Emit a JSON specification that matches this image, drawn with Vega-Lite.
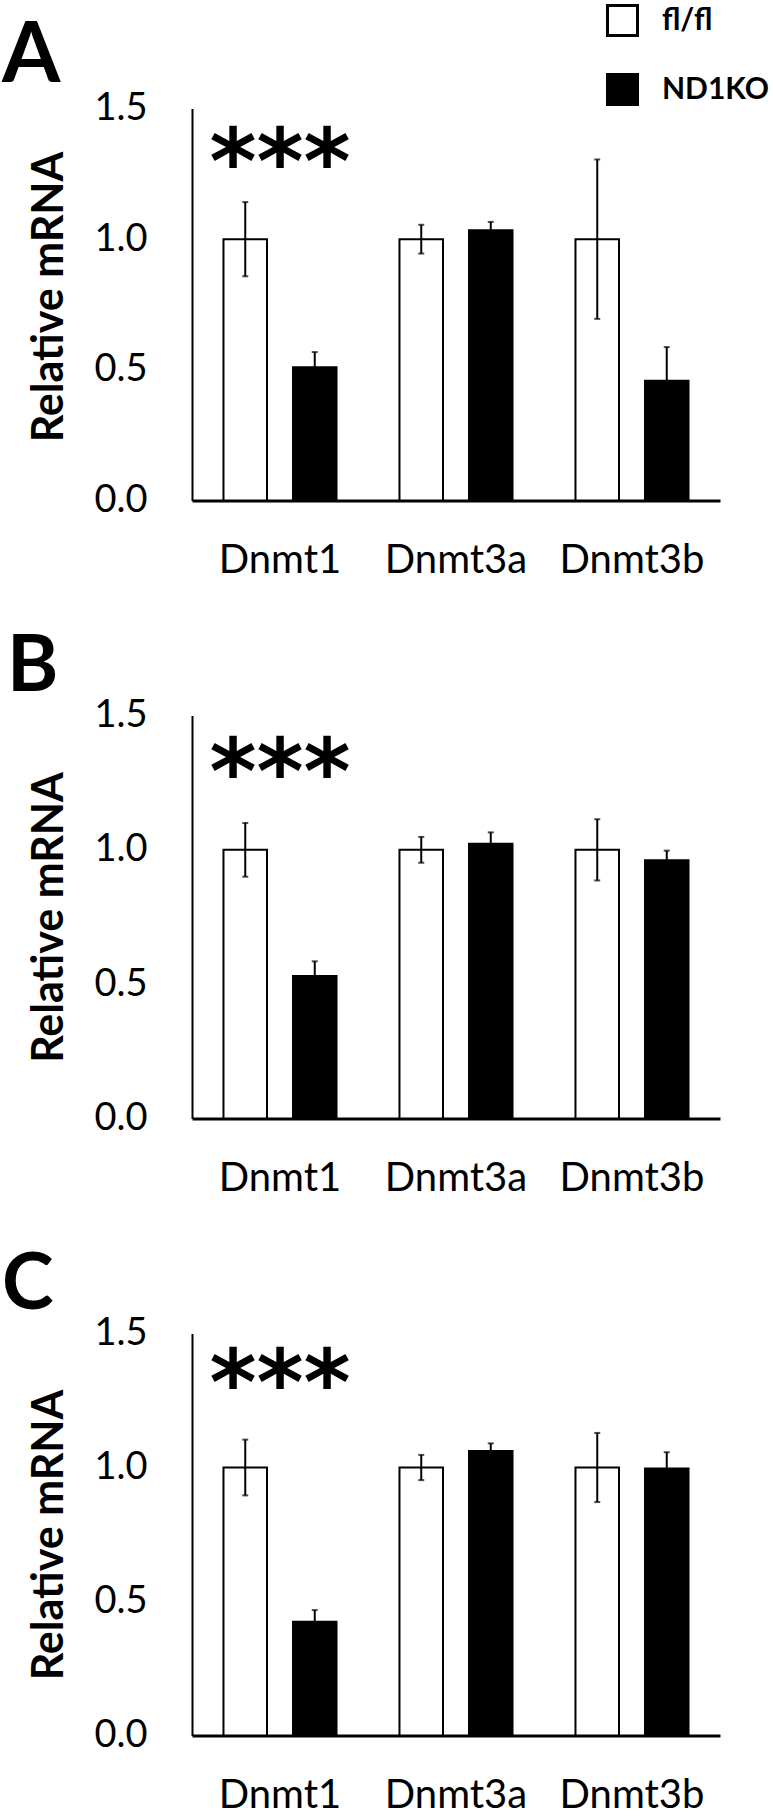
{
  "$schema": "https://vega.github.io/schema/vega-lite/v6.json",
  "padding": {"left": 2, "top": 3.5, "right": 0, "bottom": 0},
  "background": "white",
  "config": {
    "font": "Lato",
    "view": {"stroke": null},
    "axis": {"grid": false, "ticks": false, "tickSize": 0, "domainColor": "black", "labelColor": "black", "labelFont": "Lato", "labelFontSize": 38, "labelFontWeight": "normal", "titleColor": "black", "titleFont": "Lato"},
    "axisY": {"format": ".1f", "domainWidth": 2, "labelPadding": 45, "titleFontSize": 43, "titleFontWeight": "bold", "titlePadding": 22},
    "axisX": {"labelAngle": 0, "domainWidth": 3, "labelPadding": 40, "labelFontSize": 40},
    "concat": {"spacing": 48}
  },
  "datasets": {
    "d": [
      {"panel": "A", "gene": "Dnmt1", "group": "fl/fl", "mean": 1.0, "lo": 0.858, "hi": 1.142},
      {"panel": "A", "gene": "Dnmt1", "group": "ND1KO", "mean": 0.510, "lo": 0.452, "hi": 0.568},
      {"panel": "A", "gene": "Dnmt3a", "group": "fl/fl", "mean": 1.0, "lo": 0.945, "hi": 1.055},
      {"panel": "A", "gene": "Dnmt3a", "group": "ND1KO", "mean": 1.034, "lo": 1.002, "hi": 1.066},
      {"panel": "A", "gene": "Dnmt3b", "group": "fl/fl", "mean": 1.0, "lo": 0.695, "hi": 1.305},
      {"panel": "A", "gene": "Dnmt3b", "group": "ND1KO", "mean": 0.458, "lo": 0.329, "hi": 0.587},
      {"panel": "B", "gene": "Dnmt1", "group": "fl/fl", "mean": 1.0, "lo": 0.90, "hi": 1.10},
      {"panel": "B", "gene": "Dnmt1", "group": "ND1KO", "mean": 0.530, "lo": 0.475, "hi": 0.585},
      {"panel": "B", "gene": "Dnmt3a", "group": "fl/fl", "mean": 1.0, "lo": 0.952, "hi": 1.048},
      {"panel": "B", "gene": "Dnmt3a", "group": "ND1KO", "mean": 1.023, "lo": 0.981, "hi": 1.065},
      {"panel": "B", "gene": "Dnmt3b", "group": "fl/fl", "mean": 1.0, "lo": 0.886, "hi": 1.114},
      {"panel": "B", "gene": "Dnmt3b", "group": "ND1KO", "mean": 0.961, "lo": 0.925, "hi": 0.997},
      {"panel": "C", "gene": "Dnmt1", "group": "fl/fl", "mean": 1.0, "lo": 0.896, "hi": 1.104},
      {"panel": "C", "gene": "Dnmt1", "group": "ND1KO", "mean": 0.424, "lo": 0.380, "hi": 0.468},
      {"panel": "C", "gene": "Dnmt3a", "group": "fl/fl", "mean": 1.0, "lo": 0.953, "hi": 1.047},
      {"panel": "C", "gene": "Dnmt3a", "group": "ND1KO", "mean": 1.062, "lo": 1.034, "hi": 1.090},
      {"panel": "C", "gene": "Dnmt3b", "group": "fl/fl", "mean": 1.0, "lo": 0.871, "hi": 1.129},
      {"panel": "C", "gene": "Dnmt3b", "group": "ND1KO", "mean": 0.996, "lo": 0.935, "hi": 1.057}
    ]
  },
  "resolve": {"legend": {"fill": "independent"}},
  "vconcat": [
    {
      "title": {"text": "A", "anchor": "start", "frame": "group", "dx": -190, "offset": -96, "fontSize": 84, "fontWeight": "bold", "font": "Lato", "color": "black"},
      "width": 528, "height": 392,
      "layer": [
        {
          "data": {"name": "d"},
          "transform": [{"filter": "datum.panel === 'A'"}],
          "mark": {"type": "bar", "stroke": "black", "strokeWidth": 2},
          "encoding": {
            "x": {"field": "gene", "type": "nominal", "title": null, "sort": ["Dnmt1", "Dnmt3a", "Dnmt3b"], "scale": {"paddingInner": 0, "paddingOuter": 0}},
            "xOffset": {"field": "group", "type": "nominal", "sort": ["fl/fl", "ND1KO"], "scale": {"paddingInner": 0.374, "paddingOuter": 0.453}},
            "y": {"field": "mean", "type": "quantitative", "scale": {"domain": [0, 1.5], "nice": false}, "title": "Relative mRNA", "axis": {"values": [0, 0.5, 1, 1.5], "titleY": 188}},
            "fill": {"field": "group", "type": "nominal", "sort": ["fl/fl", "ND1KO"], "scale": {"domain": ["fl/fl", "ND1KO"], "range": ["white", "black"]},
              "legend": {"orient": "none", "legendX": 414, "legendY": -104.5, "title": null, "symbolType": "square", "symbolSize": 900, "symbolStrokeColor": "black", "symbolStrokeWidth": 3, "labelFont": "Lato", "labelFontWeight": "bold", "labelFontSize": 30, "labelColor": "black", "labelOffset": 23, "rowPadding": 26, "padding": 0, "symbolOpacity": 1}}
          }
        },
        {
          "data": {"name": "d"},
          "transform": [{"filter": "datum.panel === 'A'"}],
          "mark": {"type": "rule", "strokeWidth": 2, "color": "black"},
          "encoding": {
            "x": {"field": "gene", "type": "nominal", "title": null, "sort": ["Dnmt1", "Dnmt3a", "Dnmt3b"]},
            "xOffset": {"field": "group", "type": "nominal", "sort": ["fl/fl", "ND1KO"]},
            "y": {"field": "lo", "type": "quantitative", "title": "Relative mRNA", "axis": {"values": [0, 0.5, 1, 1.5], "titleY": 188}},
            "y2": {"field": "hi"}
          }
        },
        {
          "data": {"name": "d"},
          "transform": [{"filter": "datum.panel === 'A'"}],
          "mark": {"type": "tick", "size": 6, "thickness": 2, "color": "black"},
          "encoding": {
            "x": {"field": "gene", "type": "nominal", "title": null, "sort": ["Dnmt1", "Dnmt3a", "Dnmt3b"]},
            "xOffset": {"field": "group", "type": "nominal", "sort": ["fl/fl", "ND1KO"]},
            "y": {"field": "hi", "type": "quantitative", "title": "Relative mRNA", "axis": {"values": [0, 0.5, 1, 1.5], "titleY": 188}}
          }
        },
        {
          "data": {"name": "d"},
          "transform": [{"filter": "datum.panel === 'A'"}],
          "mark": {"type": "tick", "size": 6, "thickness": 2, "color": "black"},
          "encoding": {
            "x": {"field": "gene", "type": "nominal", "title": null, "sort": ["Dnmt1", "Dnmt3a", "Dnmt3b"]},
            "xOffset": {"field": "group", "type": "nominal", "sort": ["fl/fl", "ND1KO"]},
            "y": {"field": "lo", "type": "quantitative", "title": "Relative mRNA", "axis": {"values": [0, 0.5, 1, 1.5], "titleY": 188}}
          }
        },
        {
          "data": {"values": [{"sig": "***"}]},
          "mark": {"type": "text", "font": "DejaVu Sans", "fontWeight": "bold", "fontSize": 90, "baseline": "alphabetic", "align": "center", "color": "black"},
          "encoding": {
            "x": {"datum": "Dnmt1"},
            "y": {"datum": 1.178, "title": "Relative mRNA", "axis": {"values": [0, 0.5, 1, 1.5], "titleY": 188}},
            "text": {"field": "sig"}
          }
        }
      ]
    },
    {
      "title": {"text": "B", "anchor": "start", "frame": "group", "dx": -185, "offset": -10, "fontSize": 78, "fontWeight": "bold", "font": "Lato", "color": "black"},
      "width": 528, "height": 403,
      "layer": [
        {
          "data": {"name": "d"},
          "transform": [{"filter": "datum.panel === 'B'"}],
          "mark": {"type": "bar", "stroke": "black", "strokeWidth": 2},
          "encoding": {
            "x": {"field": "gene", "type": "nominal", "title": null, "sort": ["Dnmt1", "Dnmt3a", "Dnmt3b"], "scale": {"paddingInner": 0, "paddingOuter": 0}},
            "xOffset": {"field": "group", "type": "nominal", "sort": ["fl/fl", "ND1KO"], "scale": {"paddingInner": 0.374, "paddingOuter": 0.453}},
            "y": {"field": "mean", "type": "quantitative", "scale": {"domain": [0, 1.5], "nice": false}, "title": "Relative mRNA", "axis": {"values": [0, 0.5, 1, 1.5]}},
            "fill": {"field": "group", "type": "nominal", "sort": ["fl/fl", "ND1KO"], "scale": {"domain": ["fl/fl", "ND1KO"], "range": ["white", "black"]}, "legend": null}
          }
        },
        {
          "data": {"name": "d"},
          "transform": [{"filter": "datum.panel === 'B'"}],
          "mark": {"type": "rule", "strokeWidth": 2, "color": "black"},
          "encoding": {
            "x": {"field": "gene", "type": "nominal", "title": null, "sort": ["Dnmt1", "Dnmt3a", "Dnmt3b"]},
            "xOffset": {"field": "group", "type": "nominal", "sort": ["fl/fl", "ND1KO"]},
            "y": {"field": "lo", "type": "quantitative", "title": "Relative mRNA", "axis": {"values": [0, 0.5, 1, 1.5]}},
            "y2": {"field": "hi"}
          }
        },
        {
          "data": {"name": "d"},
          "transform": [{"filter": "datum.panel === 'B'"}],
          "mark": {"type": "tick", "size": 6, "thickness": 2, "color": "black"},
          "encoding": {
            "x": {"field": "gene", "type": "nominal", "title": null, "sort": ["Dnmt1", "Dnmt3a", "Dnmt3b"]},
            "xOffset": {"field": "group", "type": "nominal", "sort": ["fl/fl", "ND1KO"]},
            "y": {"field": "hi", "type": "quantitative", "title": "Relative mRNA", "axis": {"values": [0, 0.5, 1, 1.5]}}
          }
        },
        {
          "data": {"name": "d"},
          "transform": [{"filter": "datum.panel === 'B'"}],
          "mark": {"type": "tick", "size": 6, "thickness": 2, "color": "black"},
          "encoding": {
            "x": {"field": "gene", "type": "nominal", "title": null, "sort": ["Dnmt1", "Dnmt3a", "Dnmt3b"]},
            "xOffset": {"field": "group", "type": "nominal", "sort": ["fl/fl", "ND1KO"]},
            "y": {"field": "lo", "type": "quantitative", "title": "Relative mRNA", "axis": {"values": [0, 0.5, 1, 1.5]}}
          }
        },
        {
          "data": {"values": [{"sig": "***"}]},
          "mark": {"type": "text", "font": "DejaVu Sans", "fontWeight": "bold", "fontSize": 90, "baseline": "alphabetic", "align": "center", "color": "black"},
          "encoding": {
            "x": {"datum": "Dnmt1"},
            "y": {"datum": 1.175, "title": "Relative mRNA", "axis": {"values": [0, 0.5, 1, 1.5]}},
            "text": {"field": "sig"}
          }
        }
      ]
    },
    {
      "title": {"text": "C", "anchor": "start", "frame": "group", "dx": -190, "offset": -10, "fontSize": 78, "fontWeight": "bold", "font": "Lato", "color": "black"},
      "width": 528, "height": 402,
      "layer": [
        {
          "data": {"name": "d"},
          "transform": [{"filter": "datum.panel === 'C'"}],
          "mark": {"type": "bar", "stroke": "black", "strokeWidth": 2},
          "encoding": {
            "x": {"field": "gene", "type": "nominal", "title": null, "sort": ["Dnmt1", "Dnmt3a", "Dnmt3b"], "scale": {"paddingInner": 0, "paddingOuter": 0}},
            "xOffset": {"field": "group", "type": "nominal", "sort": ["fl/fl", "ND1KO"], "scale": {"paddingInner": 0.374, "paddingOuter": 0.453}},
            "y": {"field": "mean", "type": "quantitative", "scale": {"domain": [0, 1.5], "nice": false}, "title": "Relative mRNA", "axis": {"values": [0, 0.5, 1, 1.5]}},
            "fill": {"field": "group", "type": "nominal", "sort": ["fl/fl", "ND1KO"], "scale": {"domain": ["fl/fl", "ND1KO"], "range": ["white", "black"]}, "legend": null}
          }
        },
        {
          "data": {"name": "d"},
          "transform": [{"filter": "datum.panel === 'C'"}],
          "mark": {"type": "rule", "strokeWidth": 2, "color": "black"},
          "encoding": {
            "x": {"field": "gene", "type": "nominal", "title": null, "sort": ["Dnmt1", "Dnmt3a", "Dnmt3b"]},
            "xOffset": {"field": "group", "type": "nominal", "sort": ["fl/fl", "ND1KO"]},
            "y": {"field": "lo", "type": "quantitative", "title": "Relative mRNA", "axis": {"values": [0, 0.5, 1, 1.5]}},
            "y2": {"field": "hi"}
          }
        },
        {
          "data": {"name": "d"},
          "transform": [{"filter": "datum.panel === 'C'"}],
          "mark": {"type": "tick", "size": 6, "thickness": 2, "color": "black"},
          "encoding": {
            "x": {"field": "gene", "type": "nominal", "title": null, "sort": ["Dnmt1", "Dnmt3a", "Dnmt3b"]},
            "xOffset": {"field": "group", "type": "nominal", "sort": ["fl/fl", "ND1KO"]},
            "y": {"field": "hi", "type": "quantitative", "title": "Relative mRNA", "axis": {"values": [0, 0.5, 1, 1.5]}}
          }
        },
        {
          "data": {"name": "d"},
          "transform": [{"filter": "datum.panel === 'C'"}],
          "mark": {"type": "tick", "size": 6, "thickness": 2, "color": "black"},
          "encoding": {
            "x": {"field": "gene", "type": "nominal", "title": null, "sort": ["Dnmt1", "Dnmt3a", "Dnmt3b"]},
            "xOffset": {"field": "group", "type": "nominal", "sort": ["fl/fl", "ND1KO"]},
            "y": {"field": "lo", "type": "quantitative", "title": "Relative mRNA", "axis": {"values": [0, 0.5, 1, 1.5]}}
          }
        },
        {
          "data": {"values": [{"sig": "***"}]},
          "mark": {"type": "text", "font": "DejaVu Sans", "fontWeight": "bold", "fontSize": 90, "baseline": "alphabetic", "align": "center", "color": "black"},
          "encoding": {
            "x": {"datum": "Dnmt1"},
            "y": {"datum": 1.2, "title": "Relative mRNA", "axis": {"values": [0, 0.5, 1, 1.5]}},
            "text": {"field": "sig"}
          }
        }
      ]
    }
  ]
}
